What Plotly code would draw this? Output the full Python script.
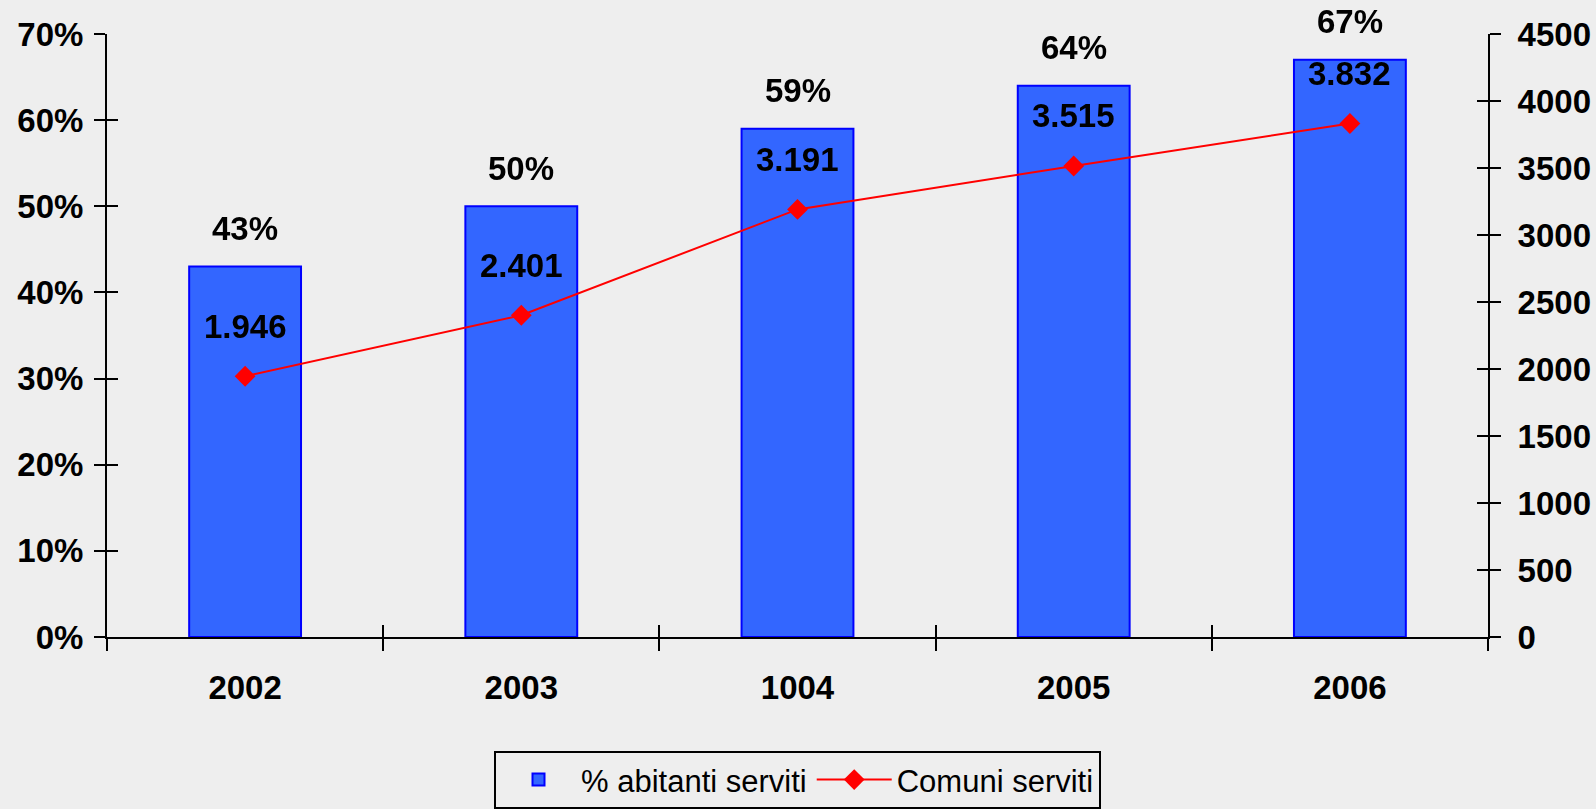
import plotly.graph_objects as go

years = ["2002", "2003", "1004", "2005", "2006"]
pct_served = [43, 50, 59, 64, 67]
comuni_served = [1946, 2401, 3191, 3515, 3832]
left_ticks = [0, 10, 20, 30, 40, 50, 60, 70]
right_ticks = [0, 500, 1000, 1500, 2000, 2500, 3000, 3500, 4000, 4500]

BG = "#EEEEEE"
FONT = "Liberation Sans, Arial, sans-serif"

fig = go.Figure()
fig.add_trace(go.Bar(
    x=years, y=pct_served, name="% abitanti serviti",
    marker=dict(color="#3366FF", line=dict(color="#0000FF", width=2)),
    width=0.405))
fig.add_trace(go.Scatter(
    x=years, y=comuni_served, name="Comuni serviti", yaxis="y2",
    mode="lines+markers", line=dict(color="#FF0000", width=2),
    marker=dict(symbol="diamond", size=16, color="#FF0000")))
# invisible helper traces to activate overlay axes (for crossing tick marks)
fig.add_trace(go.Scatter(x=years, y=pct_served, xaxis="x2", yaxis="y3",
                         mode="markers", opacity=0, showlegend=False, hoverinfo="skip"))
fig.add_trace(go.Scatter(x=years, y=comuni_served, xaxis="x2", yaxis="y4",
                         mode="markers", opacity=0, showlegend=False, hoverinfo="skip"))

lblfont = dict(family=FONT, size=33, color="black", weight="bold")
# category axis: annotations positioned by category index
for i, v in enumerate(pct_served):
    fig.add_annotation(x=i, y=v, xref="x", yref="y", text=f"{v}%", showarrow=False,
                       yshift=38, font=lblfont)
for i, v in enumerate(comuni_served):
    fig.add_annotation(x=i, y=v, xref="x", yref="y2", text=f"{v:,}".replace(",", "."),
                       showarrow=False, yshift=50, font=lblfont)

tickfont = dict(family=FONT, size=33, color="black", weight="bold")
fig.update_layout(
    width=1596, height=809,
    margin=dict(l=107, r=108, t=34, b=172, autoexpand=False),
    paper_bgcolor=BG, plot_bgcolor=BG,
    font=dict(family=FONT, color="black"),
    showlegend=True,
    legend=dict(orientation="h", x=0.5, xanchor="center", y=-0.189, yanchor="top",
                bordercolor="black", borderwidth=2, bgcolor=BG, itemwidth=75,
                font=dict(family=FONT, size=31, color="black")),
    xaxis=dict(type="category", tickson="boundaries", ticks="outside", ticklen=12,
               tickwidth=2, tickcolor="black", showline=True, linecolor="black", linewidth=2,
               tickfont=tickfont, showgrid=False, range=[-0.5, 4.5], ticklabelstandoff=20),
    xaxis2=dict(type="category", overlaying="x", anchor="y3", side="bottom",
                tickson="boundaries", ticks="inside", ticklen=12, tickwidth=2,
                tickcolor="black", showticklabels=False, showgrid=False, showline=False,
                range=[-0.5, 4.5]),
    yaxis=dict(range=[0, 70], tickvals=left_ticks, ticktext=[f"{t}%" for t in left_ticks],
               ticks="outside", ticklen=11, tickwidth=2, tickcolor="black",
               showline=True, linecolor="black", linewidth=2, showgrid=False,
               zeroline=False, tickfont=tickfont, ticklabelstandoff=4),
    yaxis2=dict(range=[0, 4500], tickvals=right_ticks, overlaying="y", side="right",
                ticks="outside", ticklen=11, tickwidth=2, tickcolor="black",
                showline=True, linecolor="black", linewidth=2, showgrid=False,
                zeroline=False, tickfont=tickfont, ticklabelstandoff=10),
    yaxis3=dict(range=[0, 70], tickvals=left_ticks, overlaying="y", side="left",
                anchor="x2",
                ticks="inside", ticklen=11, tickwidth=2, tickcolor="black",
                showticklabels=False, showgrid=False, zeroline=False, showline=False),
    yaxis4=dict(range=[0, 4500], tickvals=right_ticks, overlaying="y", side="right",
                anchor="x2",
                ticks="inside", ticklen=11, tickwidth=2, tickcolor="black",
                showticklabels=False, showgrid=False, zeroline=False, showline=False),
)

fig.write_html("out.html", config={"displayModeBar": False},
               post_script="document.body.style.margin='0';document.body.style.background='#EEEEEE';")
